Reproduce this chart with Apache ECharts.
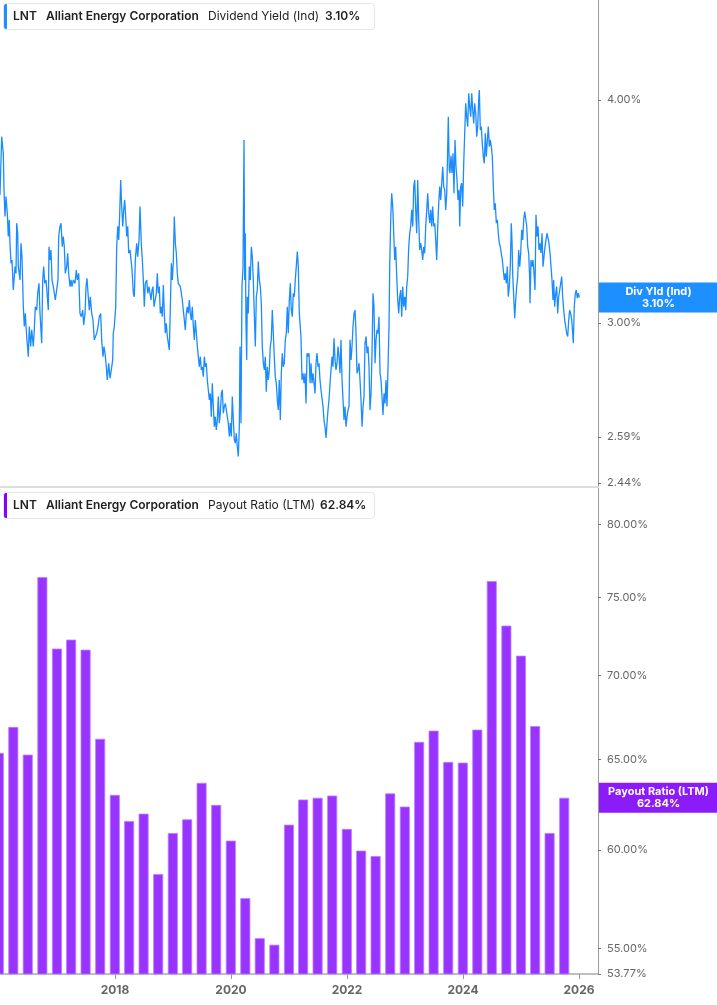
<!DOCTYPE html>
<html><head><meta charset="utf-8">
<script src="https://cdn.jsdelivr.net/npm/echarts@6/dist/echarts.min.js"></script>
<style>html,body{margin:0;padding:0;background:#fff}#c{width:717px;height:1005px}</style>
</head><body><div id="c"></div>
<script>
const ticker = 'LNT';
const company = 'Alliant Energy Corporation';
const yieldName = 'Dividend Yield (Ind)';
const yieldShort = 'Div Yld (Ind)';
const payoutName = 'Payout Ratio (LTM)';

// [decimal year, dividend yield %]
const yieldSeries = [
[2016.017,3.539],[2016.046,3.815],[2016.074,3.734],[2016.086,3.562],[2016.103,3.442],[2016.120,3.531],[2016.143,3.456],[2016.160,3.354],[2016.177,3.427],[2016.189,3.325],[2016.207,3.240],[2016.224,3.254],[2016.246,3.130],[2016.276,3.226],[2016.293,3.198],[2016.305,3.412],[2016.322,3.368],[2016.333,3.226],[2016.362,3.171],[2016.379,3.325],[2016.396,3.268],[2016.419,3.063],[2016.436,2.986],[2016.453,3.037],[2016.477,2.948],[2016.505,2.872],[2016.522,2.986],[2016.546,2.910],[2016.564,2.973],[2016.591,2.910],[2016.608,2.973],[2016.626,3.063],[2016.650,3.050],[2016.667,3.117],[2016.689,3.157],[2016.707,3.037],[2016.736,2.922],[2016.753,3.171],[2016.770,3.226],[2016.788,3.157],[2016.810,3.171],[2016.833,3.103],[2016.850,3.050],[2016.862,3.310],[2016.879,3.254],[2016.896,3.296],[2016.914,3.171],[2016.936,3.144],[2016.953,3.117],[2016.970,3.090],[2016.995,3.090],
[2017.017,3.171],[2017.029,3.354],[2017.051,3.398],[2017.069,3.412],[2017.091,3.310],[2017.108,3.354],[2017.126,3.310],[2017.143,3.198],[2017.167,3.226],[2017.184,3.282],[2017.201,3.198],[2017.224,3.144],[2017.241,3.171],[2017.258,3.144],[2017.281,3.171],[2017.310,3.157],[2017.333,3.212],[2017.350,3.171],[2017.374,3.198],[2017.396,3.037],[2017.419,3.024],[2017.443,3.050],[2017.460,2.992],[2017.483,3.037],[2017.500,3.144],[2017.517,3.178],[2017.539,3.103],[2017.557,3.050],[2017.574,3.103],[2017.598,3.037],[2017.620,3.011],[2017.643,2.935],[2017.667,2.935],[2017.684,2.960],[2017.707,2.986],[2017.729,3.024],[2017.753,3.037],[2017.770,2.935],[2017.793,2.872],[2017.810,2.910],[2017.827,2.885],[2017.845,2.848],[2017.867,2.787],[2017.891,2.848],[2017.914,2.793],[2017.936,2.823],[2017.960,2.860],[2017.970,2.960],[2017.988,2.986],
[2018.012,3.063],[2018.029,3.310],[2018.047,3.398],[2018.064,3.339],[2018.081,3.456],[2018.098,3.608],[2018.115,3.486],[2018.133,3.398],[2018.150,3.471],[2018.167,3.516],[2018.184,3.442],[2018.202,3.354],[2018.219,3.398],[2018.236,3.282],[2018.259,3.296],[2018.276,3.254],[2018.293,3.212],[2018.316,3.117],[2018.333,3.103],[2018.350,3.254],[2018.374,3.325],[2018.391,3.268],[2018.414,3.339],[2018.431,3.486],[2018.453,3.325],[2018.471,3.254],[2018.488,3.171],[2018.505,3.063],[2018.522,3.157],[2018.546,3.171],[2018.564,3.117],[2018.586,3.144],[2018.603,3.144],[2018.621,3.090],[2018.638,3.130],[2018.655,3.144],[2018.672,3.063],[2018.695,3.063],[2018.712,3.117],[2018.729,3.198],[2018.746,3.117],[2018.764,3.144],[2018.781,3.037],[2018.798,3.063],[2018.815,3.024],[2018.833,3.150],[2018.850,3.037],[2018.867,2.960],[2018.884,2.998],[2018.902,2.948],[2018.919,2.922],[2018.936,2.897],[2018.953,3.050],[2018.971,3.240],[2018.988,3.171],
[2019.005,3.247],[2019.022,3.442],[2019.040,3.325],[2019.057,3.282],[2019.074,3.198],[2019.091,3.157],[2019.108,3.157],[2019.126,3.144],[2019.143,3.117],[2019.160,3.090],[2019.177,3.050],[2019.195,3.011],[2019.212,2.973],[2019.229,3.037],[2019.246,3.063],[2019.264,3.037],[2019.281,3.090],[2019.298,3.037],[2019.315,3.011],[2019.333,3.063],[2019.350,2.986],[2019.367,2.935],[2019.384,3.011],[2019.402,2.960],[2019.419,2.910],[2019.436,2.872],[2019.453,2.835],[2019.471,2.872],[2019.488,2.823],[2019.505,2.835],[2019.522,2.799],[2019.540,2.872],[2019.557,2.835],[2019.574,2.848],[2019.591,2.787],[2019.609,2.751],[2019.626,2.716],[2019.643,2.739],[2019.660,2.658],[2019.677,2.775],[2019.695,2.693],[2019.712,2.624],[2019.729,2.658],[2019.746,2.613],[2019.764,2.647],[2019.781,2.728],[2019.798,2.636],[2019.815,2.670],[2019.833,2.739],[2019.850,2.751],[2019.867,2.670],[2019.884,2.693],[2019.902,2.704],[2019.919,2.681],[2019.936,2.681],[2019.953,2.636],[2019.971,2.591],[2019.988,2.636],
[2020.005,2.591],[2020.022,2.728],[2020.040,2.647],[2020.057,2.580],[2020.074,2.569],[2020.091,2.602],[2020.108,2.558],[2020.126,2.525],[2020.143,2.624],[2020.155,2.910],[2020.172,2.636],[2020.189,3.144],[2020.207,3.226],[2020.224,3.799],[2020.236,3.171],[2020.246,3.368],[2020.258,2.998],[2020.270,2.860],[2020.281,3.103],[2020.298,3.037],[2020.315,3.226],[2020.332,3.171],[2020.350,3.310],[2020.367,3.268],[2020.384,3.171],[2020.401,3.037],[2020.419,2.910],[2020.436,3.103],[2020.453,3.130],[2020.470,3.247],[2020.488,3.171],[2020.505,3.144],[2020.522,3.077],[2020.539,2.910],[2020.557,2.848],[2020.574,2.823],[2020.591,2.872],[2020.608,2.745],[2020.625,2.835],[2020.643,2.787],[2020.660,2.823],[2020.677,2.910],[2020.694,2.935],[2020.712,3.050],[2020.729,2.960],[2020.746,2.872],[2020.763,2.799],[2020.781,2.775],[2020.798,2.716],[2020.815,2.681],[2020.832,2.787],[2020.850,2.647],[2020.867,2.811],[2020.884,2.885],[2020.901,2.835],[2020.918,2.848],[2020.936,2.935],[2020.953,2.960],[2020.970,3.063],[2020.987,2.960],
[2021.005,3.090],[2021.022,3.157],[2021.039,3.050],[2021.056,3.024],[2021.074,3.117],[2021.091,3.103],[2021.108,3.171],[2021.125,3.226],[2021.143,3.289],[2021.160,3.226],[2021.177,3.037],[2021.189,3.037],[2021.206,2.948],[2021.224,2.787],[2021.241,2.811],[2021.258,2.775],[2021.276,2.811],[2021.293,2.704],[2021.310,2.885],[2021.327,2.872],[2021.345,2.885],[2021.362,2.775],[2021.379,2.848],[2021.396,2.775],[2021.414,2.811],[2021.431,2.775],[2021.448,2.739],[2021.465,2.848],[2021.483,2.885],[2021.500,2.835],[2021.517,2.848],[2021.534,2.787],[2021.551,2.751],[2021.569,2.751],[2021.586,2.693],[2021.603,2.647],[2021.620,2.624],[2021.638,2.586],[2021.655,2.636],[2021.672,2.681],[2021.689,2.716],[2021.707,2.775],[2021.724,2.823],[2021.741,2.872],[2021.758,2.835],[2021.776,2.941],[2021.793,2.860],[2021.810,2.823],[2021.827,2.848],[2021.845,2.910],[2021.862,2.872],[2021.879,2.811],[2021.896,2.935],[2021.914,2.787],[2021.931,2.716],[2021.948,2.647],[2021.965,2.693],[2021.983,2.624],
[2022.000,2.658],[2022.017,2.681],[2022.034,2.693],[2022.052,2.935],[2022.069,2.860],[2022.086,2.910],[2022.103,2.986],[2022.121,3.037],[2022.138,3.050],[2022.155,2.960],[2022.172,2.811],[2022.190,2.823],[2022.207,2.848],[2022.224,2.787],[2022.241,2.716],[2022.259,2.624],[2022.276,2.693],[2022.293,2.728],[2022.310,2.922],[2022.328,2.948],[2022.345,2.885],[2022.362,2.910],[2022.379,2.835],[2022.396,2.681],[2022.414,2.739],[2022.431,2.885],[2022.448,3.117],[2022.465,3.063],[2022.483,2.848],[2022.500,2.935],[2022.517,2.973],[2022.534,2.960],[2022.551,3.024],[2022.569,2.811],[2022.586,2.787],[2022.603,2.728],[2022.620,2.664],[2022.638,2.739],[2022.655,2.704],[2022.672,2.787],[2022.689,2.693],[2022.707,2.835],[2022.724,2.986],[2022.736,3.226],[2022.753,3.427],[2022.770,3.546],[2022.788,3.486],[2022.805,3.368],[2022.822,3.254],[2022.839,3.310],[2022.857,3.185],[2022.874,3.090],[2022.891,3.037],[2022.908,3.103],[2022.926,3.130],[2022.943,3.024],[2022.960,3.144],[2022.977,3.063],[2022.995,3.103],
[2023.012,3.050],[2023.029,3.144],[2023.046,3.185],[2023.064,3.310],[2023.081,3.368],[2023.098,3.398],[2023.115,3.471],[2023.133,3.398],[2023.150,3.577],[2023.167,3.608],[2023.184,3.471],[2023.201,3.368],[2023.219,3.608],[2023.236,3.427],[2023.253,3.296],[2023.270,3.325],[2023.288,3.296],[2023.305,3.254],[2023.322,3.310],[2023.339,3.282],[2023.357,3.398],[2023.374,3.471],[2023.391,3.546],[2023.408,3.456],[2023.426,3.412],[2023.443,3.471],[2023.460,3.398],[2023.477,3.486],[2023.495,3.398],[2023.512,3.412],[2023.529,3.339],[2023.546,3.254],[2023.564,3.398],[2023.581,3.501],[2023.598,3.577],[2023.615,3.516],[2023.633,3.593],[2023.650,3.670],[2023.667,3.577],[2023.684,3.562],[2023.701,3.471],[2023.719,3.546],[2023.736,3.766],[2023.746,3.914],[2023.763,3.655],[2023.775,3.640],[2023.792,3.722],[2023.810,3.640],[2023.827,3.734],[2023.844,3.547],[2023.862,3.799],[2023.879,3.670],[2023.896,3.608],[2023.913,3.516],[2023.931,3.562],[2023.943,3.398],[2023.960,3.577],[2023.977,3.593],[2023.994,3.486],
[2024.012,3.686],[2024.029,3.832],[2024.046,3.983],[2024.063,3.915],[2024.081,3.865],[2024.098,4.035],[2024.115,3.966],[2024.132,3.915],[2024.150,4.035],[2024.167,3.949],[2024.184,3.881],[2024.201,3.983],[2024.219,3.932],[2024.236,3.815],[2024.253,3.865],[2024.270,4.000],[2024.281,4.052],[2024.298,3.848],[2024.315,3.865],[2024.332,3.783],[2024.350,3.718],[2024.367,3.686],[2024.384,3.832],[2024.401,3.718],[2024.419,3.799],[2024.436,3.865],[2024.453,3.766],[2024.470,3.799],[2024.488,3.766],[2024.505,3.718],[2024.522,3.577],[2024.539,3.471],[2024.556,3.501],[2024.574,3.412],[2024.591,3.427],[2024.608,3.368],[2024.625,3.325],[2024.643,3.310],[2024.660,3.282],[2024.677,3.254],[2024.694,3.212],[2024.712,3.171],[2024.729,3.198],[2024.746,3.157],[2024.763,3.226],[2024.780,3.103],[2024.798,3.144],[2024.815,3.226],[2024.832,3.412],[2024.844,3.339],[2024.856,3.198],[2024.874,3.103],[2024.891,3.018],[2024.908,3.090],[2024.925,3.144],[2024.943,3.185],[2024.960,3.296],[2024.977,3.226],[2024.994,3.282],
[2025.012,3.383],[2025.029,3.339],[2025.046,3.427],[2025.063,3.464],[2025.081,3.456],[2025.098,3.398],[2025.115,3.310],[2025.132,3.282],[2025.150,3.171],[2025.155,3.077],[2025.172,3.254],[2025.189,3.226],[2025.206,3.254],[2025.224,3.198],[2025.241,3.130],[2025.258,3.449],[2025.275,3.354],[2025.293,3.398],[2025.310,3.296],[2025.327,3.325],[2025.344,3.282],[2025.362,3.368],[2025.379,3.226],[2025.396,3.268],[2025.413,3.310],[2025.430,3.339],[2025.448,3.368],[2025.465,3.368],[2025.482,3.325],[2025.500,3.282],[2025.517,3.226],[2025.534,3.171],[2025.551,3.090],[2025.563,3.171],[2025.580,3.063],[2025.598,3.117],[2025.615,3.144],[2025.632,3.037],[2025.649,3.103],[2025.667,3.130],[2025.684,3.157],[2025.701,3.185],[2025.718,3.103],[2025.736,3.050],[2025.753,3.011],[2025.770,2.986],[2025.787,2.960],[2025.805,2.948],[2025.822,3.011],[2025.839,3.050],[2025.856,3.037],[2025.874,3.011],[2025.891,2.960],[2025.901,2.922],[2025.918,3.063],[2025.936,3.117],[2025.953,3.130],[2025.970,3.097],[2025.988,3.117],[2026.005,3.100]
];

// quarterly payout ratio (LTM), %
const payoutDates = ['2015-12-31','2016-03-31','2016-06-30','2016-09-30','2016-12-31','2017-03-31','2017-06-30','2017-09-30','2017-12-31','2018-03-31','2018-06-30','2018-09-30','2018-12-31','2019-03-31','2019-06-30','2019-09-30','2019-12-31','2020-03-31','2020-06-30','2020-09-30','2020-12-31','2021-03-31','2021-06-30','2021-09-30','2021-12-31','2022-03-31','2022-06-30','2022-09-30','2022-12-31','2023-03-31','2023-06-30','2023-09-30','2023-12-31','2024-03-31','2024-06-30','2024-09-30','2024-12-31','2025-03-31','2025-06-30','2025-09-30'];
const payoutValues = [65.38,66.90,65.28,76.38,71.70,72.27,71.63,66.20,63.00,61.56,61.96,58.74,60.91,61.65,63.67,62.44,60.50,57.50,55.50,55.18,61.36,62.74,62.84,62.96,61.13,59.97,59.68,63.08,62.35,66.02,66.68,64.86,64.82,66.74,76.11,73.17,71.25,66.95,60.91,62.84];

const yieldTicks = [2.44, 2.59, 3.00, 4.00];
const payoutTicks = [53.77, 55, 60, 65, 70, 75, 80];
const yearTicks = [2018, 2020, 2022, 2024, 2026];
const xRange = [2016.017, 2026.327];
const yieldRange = [2.4274, 4.551];
const payoutRange = [53.77, 82.64];

function toYear(s) {
  const d = Date.parse(s + 'T00:00:00Z');
  const y = new Date(d).getUTCFullYear();
  return y + (d - Date.UTC(y, 0, 1)) / (365.25 * 864e5);
}
const payoutData = payoutDates.map((d, i) => [toYear(d), payoutValues[i]]);
const lastYield = yieldSeries[yieldSeries.length - 1][1];
const lastPayout = payoutValues[payoutValues.length - 1];

const FONT = 'Inter, "Noto Sans", sans-serif';
const pct = v => v.toFixed(2) + '%';
const BLUE = '#1a8cff', PURPLE = '#9933ff';

function yAxisCfg(idx, rng, ticks) {
  return {
    type: 'log', logBase: 10, gridIndex: idx, position: 'right', min: rng[0], max: rng[1],
    axisLine: { show: true, lineStyle: { color: '#999', width: 1 } },
    axisTick: { show: true, length: 3, customValues: ticks, lineStyle: { color: '#777' } },
    axisLabel: { show: true, customValues: ticks, formatter: v => pct(v), color: '#666', fontSize: 11, fontFamily: FONT, margin: 9 },
    splitLine: { show: false }, minorTick: { show: false }
  };
}
function endLabel(name, val, bg) {
  return {
    silent: true, symbol: 'none', animation: false,
    lineStyle: { color: 'rgba(0,0,0,0)', width: 0, opacity: 1 },
    data: [{ yAxis: val }],
    label: {
      show: true, position: 'end', distance: 1, opacity: 1,
      formatter: '{a|' + name + '}\n{a|' + pct(val) + '}',
      backgroundColor: bg, width: 119, padding: [3, 0, 3, 0],
      rich: { a: { align: 'center', color: '#fff', fontWeight: 'bold', fontSize: 11, lineHeight: 12, fontFamily: FONT } }
    }
  };
}
function legendBox(y, color, metric, val) {
  const cy = y + 13.5;
  const t = (x, text, w) => ({ type: 'text', x: x, y: cy, z: 101, style: { text: text, fill: '#222', fontSize: 12, fontWeight: w, fontFamily: FONT, verticalAlign: 'middle' } });
  return [
    { type: 'rect', z: 100, shape: { x: 3.5, y: y + 0.5, width: 371, height: 26, r: 3 }, style: { fill: '#fff', stroke: '#e6e6e6', lineWidth: 1 } },
    { type: 'rect', z: 101, shape: { x: 4, y: y + 1, width: 3, height: 25, r: [2, 0, 0, 2] }, style: { fill: color } },
    t(13, ticker, 600), t(46, company, 600), t(208, metric, 400), t(metric === yieldName ? 325 : 320, val, 600)
  ];
}

const chart = echarts.init(document.getElementById('c'), null, { renderer: 'canvas' });
chart.setOption({
  animation: false,
  backgroundColor: '#fff',
  grid: [
    { left: 0, right: 119, top: 0, height: 487 },
    { left: 0, right: 119, top: 488, height: 486 }
  ],
  xAxis: [
    { type: 'value', gridIndex: 0, min: xRange[0], max: xRange[1],
      axisLine: { show: true, onZero: false, lineStyle: { color: '#ddd', width: 2 } },
      axisTick: { show: false }, axisLabel: { show: false }, splitLine: { show: false } },
    { type: 'value', gridIndex: 1, min: xRange[0], max: xRange[1],
      axisLine: { show: true, onZero: false, lineStyle: { color: '#aaa', width: 1.5 } },
      axisTick: { show: true, length: 5, customValues: yearTicks, lineStyle: { color: '#999' } },
      axisLabel: { show: true, customValues: yearTicks, formatter: v => String(Math.round(v)), color: '#666', fontWeight: 'bold', fontSize: 12, fontFamily: FONT, margin: 10 },
      splitLine: { show: false } }
  ],
  yAxis: [yAxisCfg(0, yieldRange, yieldTicks), yAxisCfg(1, payoutRange, payoutTicks)],
  series: [
    { type: 'line', xAxisIndex: 0, yAxisIndex: 0, data: yieldSeries, showSymbol: false, symbol: 'none',
      lineStyle: { color: BLUE, width: 1.3 }, itemStyle: { color: BLUE }, clip: true,
      markLine: endLabel(yieldShort, lastYield, '#1e8fff') },
    { type: 'bar', xAxisIndex: 1, yAxisIndex: 1, data: payoutData, barWidth: 10, clip: true,
      itemStyle: { color: PURPLE, borderColor: '#b97fff', borderWidth: 0.8 },
      markLine: endLabel(payoutName, lastPayout, '#8c1cf7') }
  ],
  graphic: [].concat(
    legendBox(3, '#1e8fff', yieldName, pct(lastYield)),
    legendBox(492, '#8a00ff', payoutName, pct(lastPayout))
  )
});
</script>
</body></html>
